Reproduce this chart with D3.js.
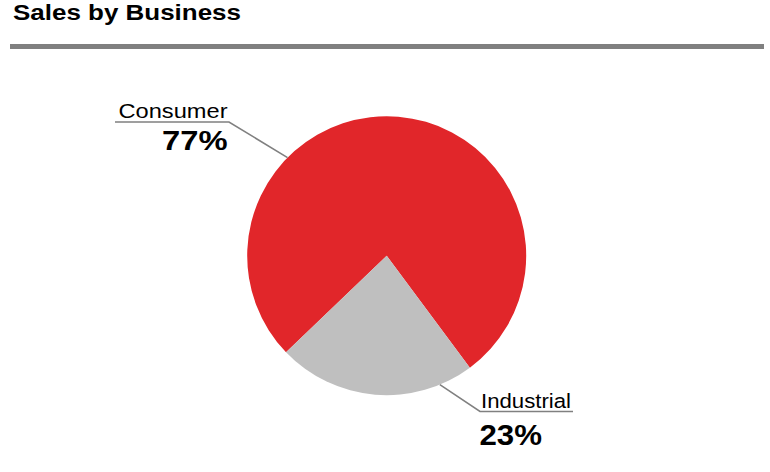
<!DOCTYPE html>
<html>
<head>
<meta charset="utf-8">
<script src="https://cdn.jsdelivr.net/npm/d3@7"></script>
<style>
  html, body { margin: 0; padding: 0; background: #fff; }
  svg { display: block; }
  text { font-family: "Liberation Sans", Arial, sans-serif; fill: #000; }
</style>
</head>
<body>
<svg id="chart" width="770" height="472"></svg>
<script>
// ---- data ----
const title = "Sales by Business";
const categories = ["Consumer", "Industrial"];
const values = [77, 23];
const valueLabels = ["77%", "23%"];
const colors = ["#E1262A", "#BFBFBF"];

// ---- layout ----
const W = 770, H = 472;
const cx = 386.7, cy = 255.7, radius = 139.5;
const startDeg = -133.8;
const rad = d => d * Math.PI / 180;

// label layout: leader anchor angle on pie edge, elbow point, underline extent, text placement
const labelLayout = [
  { edgeDeg: -45.3, elbow: [229, 122], lineEnd: 115, nameX: 227.5, nameY: 118, nameW: 109, anchor: "end",
    valX: 227.5, valY: 150, valW: 65.5, size: 20.5, valSize: 28 },
  { edgeDeg: 157.6, elbow: [480, 411.5], lineEnd: 573, nameX: 481, nameY: 408, nameW: 90, anchor: "start",
    valX: 479.5, valY: 445, valW: 62.5, size: 20.5, valSize: 29 }
];

const svg = d3.select("#chart");

// title
svg.append("text")
  .attr("x", 13).attr("y", 19.5)
  .attr("font-size", 21.5).attr("font-weight", "bold")
  .attr("textLength", 228).attr("lengthAdjust", "spacingAndGlyphs")
  .text(title);

// rule
svg.append("rect")
  .attr("x", 10).attr("y", 44).attr("width", 754).attr("height", 5)
  .attr("fill", "#808080");

// pie
const pie = d3.pie().sort(null).value(d => d)
  .startAngle(rad(startDeg)).endAngle(rad(startDeg) + 2 * Math.PI);
const arcs = pie(values);
const arc = d3.arc().innerRadius(0).outerRadius(radius);

const g = svg.append("g").attr("transform", `translate(${cx},${cy})`);
g.selectAll("path").data(arcs).join("path")
  .attr("d", arc)
  .attr("fill", (d, i) => colors[i]);

// labels with leader lines
labelLayout.forEach((L, i) => {
  const a = rad(L.edgeDeg);
  const ex = cx + radius * Math.sin(a), ey = cy - radius * Math.cos(a);
  svg.append("polyline")
    .attr("points", `${ex},${ey} ${L.elbow[0]},${L.elbow[1]} ${L.lineEnd},${L.elbow[1]}`)
    .attr("fill", "none").attr("stroke", "#808080").attr("stroke-width", 1.6);

  svg.append("text")
    .attr("x", L.nameX).attr("y", L.nameY)
    .attr("text-anchor", L.anchor)
    .attr("font-size", L.size)
    .attr("textLength", L.nameW).attr("lengthAdjust", "spacingAndGlyphs")
    .text(categories[i]);

  svg.append("text")
    .attr("x", L.valX).attr("y", L.valY)
    .attr("text-anchor", L.anchor)
    .attr("font-size", L.valSize).attr("font-weight", "bold")
    .attr("textLength", L.valW).attr("lengthAdjust", "spacingAndGlyphs")
    .text(valueLabels[i]);
});
</script>
</body>
</html>
